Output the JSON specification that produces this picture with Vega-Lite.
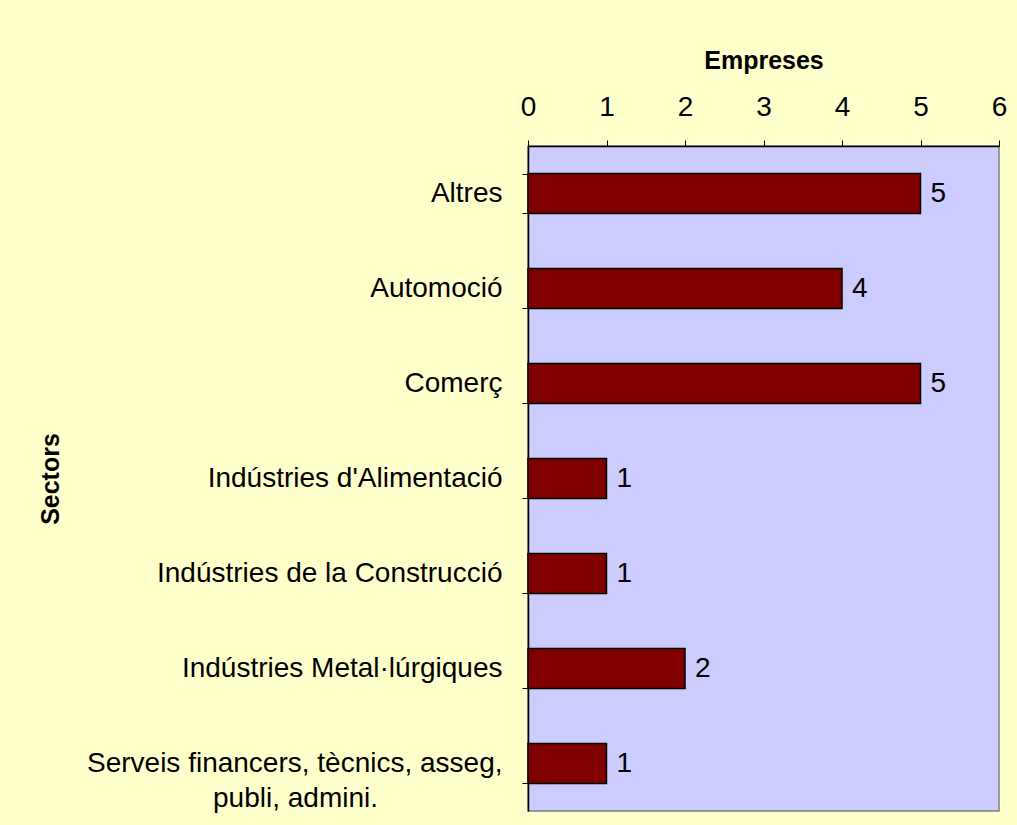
{
  "$schema": "https://vega.github.io/schema/vega-lite/v6.json",
  "width": 471,
  "height": 665,
  "padding": {"left": 38, "top": 48, "right": 13, "bottom": 14},
  "background": "#FFFFCC",
  "config": {
    "font": "Liberation Sans",
    "view": {"fill": "#CCCCFF", "stroke": "#808080", "strokeWidth": 1.5}
  },
  "data": {
    "values": [
      {"sector": "Altres", "empreses": 5},
      {"sector": "Automoció", "empreses": 4},
      {"sector": "Comerç", "empreses": 5},
      {"sector": "Indústries d'Alimentació", "empreses": 1},
      {"sector": "Indústries de la Construcció", "empreses": 1},
      {"sector": "Indústries Metal·lúrgiques", "empreses": 2},
      {"sector": "Serveis financers, tècnics, asseg,|publi, admini.\u00a0\u00a0\u00a0\u00a0\u00a0\u00a0\u00a0\u00a0\u00a0\u00a0\u00a0\u00a0\u00a0\u00a0\u00a0\u00a0\u200b", "empreses": 1}
    ]
  },
  "encoding": {
    "y": {
      "field": "sector",
      "type": "nominal",
      "sort": null,
      "scale": {"paddingInner": 0.58, "paddingOuter": 0.29},
      "axis": {
        "title": "Sectors",
        "titleFontSize": 25,
        "titleFontWeight": "bold",
        "titleColor": "black",
        "titlePadding": 265,
        "labelExpr": "split(datum.label, '|')",
        "labelFontSize": 28,
        "labelColor": "black",
        "labelAlign": "right",
        "labelPadding": 20,
        "labelLineHeight": 35,
        "labelLimit": 700,
        "tickBand": "extent",
        "tickSize": 6,
        "tickColor": "black",
        "domainColor": "black",
        "domainWidth": 1.5,
        "grid": false
      }
    },
    "x": {
      "field": "empreses",
      "type": "quantitative",
      "scale": {"domain": [0, 6], "nice": false},
      "axis": {
        "orient": "top",
        "title": "Empreses",
        "titleFontSize": 25,
        "titleFontWeight": "bold",
        "titleColor": "black",
        "titlePadding": 20,
        "values": [0, 1, 2, 3, 4, 5, 6],
        "format": "d",
        "labelFontSize": 28,
        "labelColor": "black",
        "labelPadding": 19,
        "labelFlush": false,
        "tickSize": 6,
        "tickColor": "black",
        "domainColor": "black",
        "domainWidth": 1.5,
        "grid": false
      }
    }
  },
  "layer": [
    {
      "mark": {"type": "bar", "color": "#800000", "stroke": "black", "strokeWidth": 1.5}
    },
    {
      "mark": {"type": "text", "align": "left", "dx": 10, "fontSize": 28, "color": "black"},
      "encoding": {"text": {"field": "empreses", "type": "quantitative"}}
    }
  ]
}
